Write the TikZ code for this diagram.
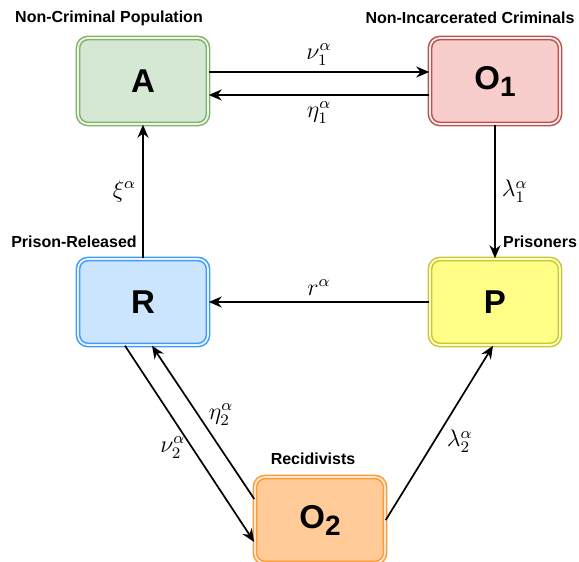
\documentclass[tikz,border=0pt]{standalone}
\usepackage{fontspec}
\setmainfont{Liberation Sans}
\usetikzlibrary{arrows.meta,positioning}

\definecolor{grnfill}{HTML}{D5E8D4}
\definecolor{grnline}{HTML}{82B366}
\definecolor{redfill}{HTML}{F8CECC}
\definecolor{redline}{HTML}{B85450}
\definecolor{bluefill}{HTML}{CCE5FF}
\definecolor{blueline}{HTML}{3D9BFF}
\definecolor{yelfill}{HTML}{FFFF88}
\definecolor{yelline}{HTML}{C8C832}
\definecolor{orfill}{HTML}{FFCC99}
\definecolor{orline}{HTML}{FF9933}

\newcommand{\boxsub}[1]{\raisebox{-3.5pt}{\fontsize{14}{14}\selectfont #1}}

\begin{document}
\begin{tikzpicture}[x=0.5pt, y=-0.5pt,
    stage/.style 2 args={draw=#1, double=#2!45!white, fill=#2, line width=0.75pt, double distance=0.9pt, rounded corners=5pt, minimum width=65pt, minimum height=43pt, font=\fontsize{16.5}{18}\selectfont\bfseries},
    arr/.style={-{Stealth[length=6.5pt, width=5.5pt]}, line width=0.85pt},
    lbl/.style={font=\fontsize{11.5}{12}\selectfont, inner sep=3pt},
    grp/.style={font=\fontsize{8}{9}\selectfont\bfseries, inner sep=0pt}
]
\useasboundingbox (0,0) rectangle (579,562);

\node[stage={grnline}{grnfill}] (A) at (143,81) {A};
\node[stage={redline}{redfill}] (O1) at (495,81) {O\boxsub{1}};
\node[stage={blueline}{bluefill}] (R) at (143,302) {R};
\node[stage={yelline}{yelfill}] (P) at (495,302) {P};
\node[stage={orline}{orfill}] (O2) at (320,520) {O\boxsub{2}};

\node[grp] (tA) at (109,18) {Non-Criminal Population};
\node[grp] (tO1) at (470,18) {Non-Incarcerated Criminals};
\node[grp] (tR) at (74,242) {Prison-Released};
\node[grp] (tP) at (540,242) {Prisoners};
\node[grp] (tO2) at (313,459) {Recidivists};

\draw[arr] ([yshift=4.5pt]A.east) -- node[lbl, above] {$\nu_1^\alpha$} ([yshift=4.5pt]O1.west);
\draw[arr] ([yshift=-7pt]O1.west) -- node[lbl, below] {$\eta_1^\alpha$} ([yshift=-7pt]A.west -| A.east);
\draw[arr] (O1) -- node[lbl, right] {$\lambda_1^\alpha$} (P);
\draw[arr] (R) -- node[lbl, left] {$\xi^\alpha$} (A);
\draw[arr] (P) -- node[lbl, above] {$r^\alpha$} (R);
\draw[arr] ([xshift=-9pt]R.south) -- node[lbl, left, pos=0.52] {$\nu_2^\alpha$} ([yshift=-11pt]O2.west);
\draw[arr] ([yshift=10.5pt]O2.west) -- node[lbl, right, pos=0.55, xshift=2pt] {$\eta_2^\alpha$} ([xshift=4.5pt]R.south);
\draw[arr] (O2.east) -- node[lbl, right, pos=0.45, xshift=3pt] {$\lambda_2^\alpha$} ([xshift=-1pt]P.south);
\end{tikzpicture}
\end{document}
